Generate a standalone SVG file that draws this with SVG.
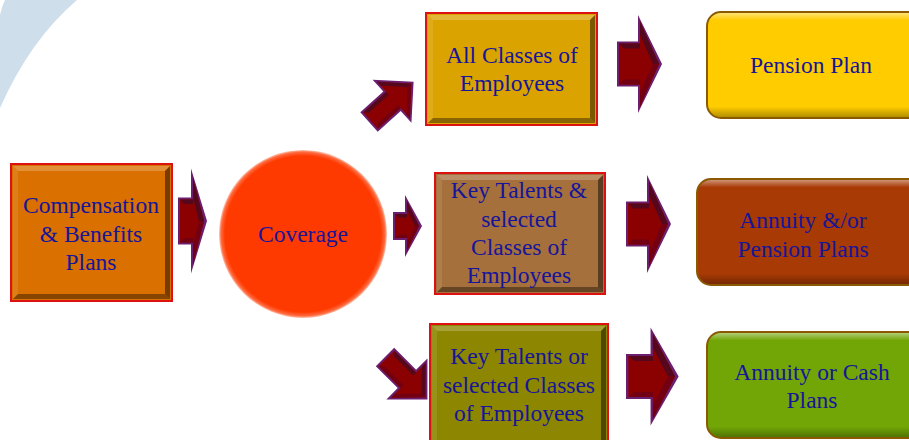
<svg xmlns="http://www.w3.org/2000/svg" xmlns:xlink="http://www.w3.org/1999/xlink" width="909" height="440" viewBox="0 0 909 440">
  <style>
    .lbl { font-family: "Liberation Serif", "Times New Roman", serif; font-size: 23.5px; fill: #15159b; text-anchor: middle; }
    .a-edge { fill: #6b1f6e; }
    .a-face { fill: #8b0000; }
    .a-dark { fill: #55081c; }
    .a-low { fill: #720012; }
    .frame { fill: #dc1212; }
    .bev-top { fill: #ffffff; fill-opacity: 0.22; }
    .bev-left { fill: #ffffff; fill-opacity: 0.10; }
    .bev-right { fill: #000000; fill-opacity: 0.45; }
    .bev-bot { fill: #000000; fill-opacity: 0.38; }
    .pill { stroke: #8b5a00; stroke-width: 2; }
  </style>
  <defs>
    <linearGradient id="pillShade" x1="0" y1="0" x2="0" y2="1">
      <stop offset="0" stop-color="#ffffff" stop-opacity="0.45"/>
      <stop offset="0.07" stop-color="#ffffff" stop-opacity="0"/>
      <stop offset="0.9" stop-color="#000000" stop-opacity="0"/>
      <stop offset="1" stop-color="#000000" stop-opacity="0.3"/>
    </linearGradient>
    <radialGradient id="ball" cx="0.5" cy="0.5" r="0.5">
      <stop offset="0" stop-color="#ff3a00"/>
      <stop offset="0.93" stop-color="#ff3a00"/>
      <stop offset="0.975" stop-color="#ff6a40"/>
      <stop offset="1" stop-color="#ffc8b4"/>
    </radialGradient>

    <!-- block arrows, drawn pointing right from a tail at the origin -->
    <g id="arrow-a">
      <polygon class="a-edge" points="0,-23.5 13,-23.5 13,-52.5 29,0 13,52.5 13,23.5 0,23.5"/>
      <polygon class="a-face" points="2,-21.5 15,-21.5 15,-43.4 26,0 15,43.4 15,21.5 2,21.5"/>
      <polygon class="a-dark" points="2,-21.5 15,-21.5 15,-17 6,-17"/>
      <polygon class="a-dark" points="15,-43.4 26,0 21,0 15,-23.7"/>
      <polygon class="a-low" points="15,43.4 26,0 21,0 15,23.7"/>
      <polygon class="a-low" points="2,21.5 15,21.5 15,17 6,17"/>
    </g>
    <g id="arrow-b">
      <polygon class="a-edge" points="0,-14 12,-14 12,-31 29,0 12,31 12,14 0,14"/>
      <polygon class="a-face" points="2,-12 14,-12 14,-24.9 26,0 14,24.9 14,12 2,12"/>
      <polygon class="a-dark" points="2,-12 14,-12 14,-8.5 5.5,-8.5"/>
      <polygon class="a-dark" points="14,-24.9 26,0 22,0 14,-16.6"/>
      <polygon class="a-low" points="14,24.9 26,0 22,0 14,16.6"/>
      <polygon class="a-low" points="2,12 14,12 14,8.5 5.5,8.5"/>
    </g>
    <g id="arrow-c">
      <polygon class="a-edge" points="0,-22.5 21,-22.5 21,-49 45,0 21,49 21,22.5 0,22.5"/>
      <polygon class="a-face" points="2,-20.5 23,-20.5 23,-42.4 42,0 23,42.4 23,20.5 2,20.5"/>
      <polygon class="a-dark" points="2,-20.5 23,-20.5 23,-15.5 7,-15.5"/>
      <polygon class="a-dark" points="23,-42.4 42,0 36,0 23,-29"/>
      <polygon class="a-low" points="23,42.4 42,0 36,0 23,29"/>
      <polygon class="a-low" points="2,20.5 23,20.5 23,15.5 7,15.5"/>
    </g>
    <g id="arrow-d">
      <polygon class="a-edge" points="0,-13 31,-13 31,-29 60,0 31,29 31,13 0,13"/>
      <polygon class="a-face" points="2,-11 33,-11 33,-24.5 57,0 33,24.5 33,11 2,11"/>
      <polygon class="a-dark" points="2,-11 33,-11 33,-7 6,-7"/>
      <polygon class="a-dark" points="33,-24.5 57,0 52,0 33,-19.4"/>
      <polygon class="a-low" points="33,24.5 57,0 52,0 33,19.4"/>
      <polygon class="a-low" points="2,11 33,11 33,7 6,7"/>
    </g>
  </defs>

  <rect width="909" height="440" fill="#ffffff"/>

  <!-- pale blue sweep in the corner -->
  <path d="M5,0 L77,0 Q30,40 0,108 L0,15 Q2,6 5,0 Z" fill="#cfdeeb"/>

  <!-- connectors -->
  <g id="connectors">
    <use xlink:href="#arrow-a" transform="translate(178,221)"/>
    <use xlink:href="#arrow-b" transform="translate(393,226)"/>
    <use xlink:href="#arrow-d" transform="translate(369,122) rotate(-42)"/>
    <use xlink:href="#arrow-d" transform="translate(385,357) rotate(45)"/>
    <use xlink:href="#arrow-c" transform="translate(617,64)"/>
    <use xlink:href="#arrow-c" transform="translate(626,224)"/>
    <use xlink:href="#arrow-c" transform="translate(626,376.5) scale(1.17,1)"/>
  </g>

  <!-- bevelled source box -->
  <g id="comp-benefits">
    <rect class="frame" x="10" y="163" width="163" height="139"/>
    <rect x="12" y="165" width="159" height="135" fill="#d97000"/>
    <polygon class="bev-top" points="13,166 170,166 165,171 18,171"/>
    <polygon class="bev-left" points="13,166 18,171 18,294 13,299"/>
    <polygon class="bev-right" points="170,166 170,299 165,294 165,171"/>
    <polygon class="bev-bot" points="13,299 170,299 165,294 18,294"/>
    <text class="lbl" x="91" y="213">Compensation</text>
    <text class="lbl" x="91" y="242">&amp; Benefits</text>
    <text class="lbl" x="91" y="270">Plans</text>
  </g>

  <g id="coverage">
    <circle cx="303" cy="234" r="84" fill="url(#ball)"/>
    <text class="lbl" x="303" y="242">Coverage</text>
  </g>

  <g id="all-classes">
    <rect class="frame" x="425" y="12" width="173" height="114"/>
    <rect x="427" y="14" width="169" height="110" fill="#dba300"/>
    <polygon class="bev-top" points="428,15 595,15 590,20 433,20"/>
    <polygon class="bev-left" points="428,15 433,20 433,118 428,123"/>
    <polygon class="bev-right" points="595,15 595,123 590,118 590,20"/>
    <polygon class="bev-bot" points="428,123 595,123 590,118 433,118"/>
    <text class="lbl" x="512" y="63">All Classes of</text>
    <text class="lbl" x="512" y="91">Employees</text>
  </g>

  <g id="key-talents-and">
    <rect class="frame" x="434" y="172" width="172" height="123"/>
    <rect x="436" y="174" width="168" height="119" fill="#a5703c"/>
    <polygon class="bev-top" points="437,175 603,175 598,180 442,180"/>
    <polygon class="bev-left" points="437,175 442,180 442,287 437,292"/>
    <polygon class="bev-right" points="603,175 603,292 598,287 598,180"/>
    <polygon class="bev-bot" points="437,292 603,292 598,287 442,287"/>
    <text class="lbl" x="519" y="198">Key Talents &amp;</text>
    <text class="lbl" x="519" y="227">selected</text>
    <text class="lbl" x="519" y="255">Classes of</text>
    <text class="lbl" x="519" y="283">Employees</text>
  </g>

  <g id="key-talents-or">
    <rect class="frame" x="429" y="323" width="180" height="130"/>
    <rect x="431" y="325" width="176" height="126" fill="#8c8600"/>
    <polygon class="bev-top" points="432,326 606,326 601,331 437,331"/>
    <polygon class="bev-left" points="432,326 437,331 437,445 432,450"/>
    <polygon class="bev-right" points="606,326 606,450 601,445 601,331"/>
    <text class="lbl" x="519" y="364">Key Talents or</text>
    <text class="lbl" x="519" y="393">selected Classes</text>
    <text class="lbl" x="519" y="421">of Employees</text>
  </g>

  <g id="pension-plan">
    <rect class="pill" x="707" y="12" width="215" height="106" rx="14" fill="#ffcc00"/>
    <rect x="708" y="13" width="213" height="104" rx="13" fill="url(#pillShade)"/>
    <text class="lbl" x="811" y="73">Pension Plan</text>
  </g>

  <g id="annuity-pension">
    <rect class="pill" x="697" y="179" width="225" height="106" rx="14" fill="#a83a05"/>
    <rect x="698" y="180" width="223" height="104" rx="13" fill="url(#pillShade)"/>
    <text class="lbl" x="803" y="228">Annuity &amp;/or</text>
    <text class="lbl" x="803" y="257">Pension Plans</text>
  </g>

  <g id="annuity-cash">
    <rect class="pill" x="707" y="332" width="215" height="106" rx="14" fill="#72a606"/>
    <rect x="708" y="333" width="213" height="104" rx="13" fill="url(#pillShade)"/>
    <text class="lbl" x="812" y="380">Annuity or Cash</text>
    <text class="lbl" x="812" y="408">Plans</text>
  </g>
</svg>
